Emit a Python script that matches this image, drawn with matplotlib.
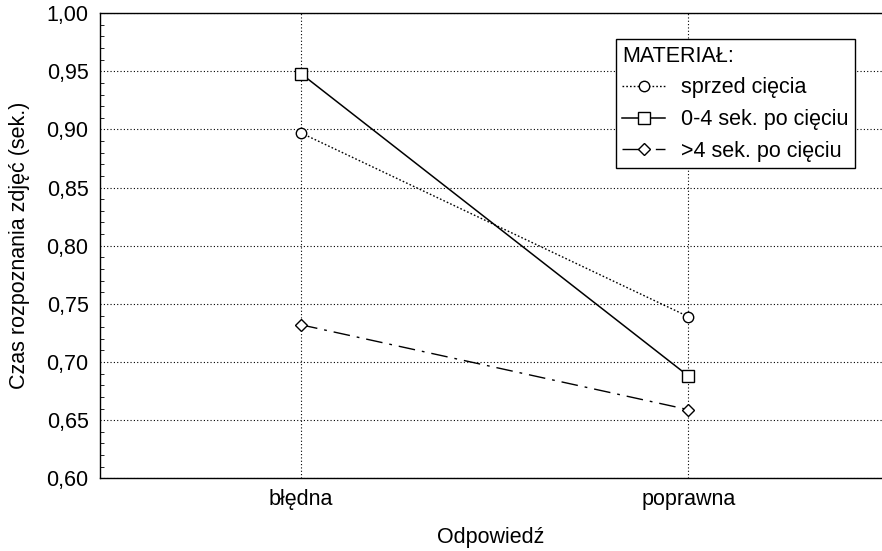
import matplotlib
matplotlib.use("Agg")
import matplotlib.pyplot as plt
from matplotlib.ticker import FuncFormatter, MultipleLocator

plt.rcParams['font.family'] = ['Liberation Sans', 'DejaVu Sans']

# --- dane
odpowiedzi = ['błędna', 'poprawna']
sprzed = [0.897, 0.739]
po_0_4 = [0.948, 0.688]
po_4 = [0.732, 0.659]

FS = 15.5

fig = plt.figure(figsize=(8.82, 5.51), dpi=100)
ax = fig.add_axes([0.113, 0.132, 0.887, 0.844])

x = range(len(odpowiedzi))
ax.plot(x, sprzed, color='black', linestyle=(0, (1.2, 1.5)), linewidth=1,
        marker='o', markersize=7.5, markerfacecolor='white', label='sprzed cięcia')
ax.plot(x, po_0_4, color='black', linestyle='-', linewidth=1.1,
        marker='s', markersize=8.5, markerfacecolor='white', label='0-4 sek. po cięciu')
ax.plot(x, po_4, color='black', linestyle=(0, (12, 5, 2, 5)), linewidth=1,
        marker='D', markersize=6.5, markerfacecolor='white', label='>4 sek. po cięciu')

ax.set_xlim(-0.52, 1.5)
ax.set_ylim(0.60, 1.00)
ax.set_xticks(list(x))
ax.set_xticklabels(odpowiedzi)
ax.yaxis.set_major_locator(MultipleLocator(0.05))
ax.yaxis.set_minor_locator(MultipleLocator(0.01))
ax.yaxis.set_major_formatter(FuncFormatter(lambda v, p: f'{v:.2f}'.replace('.', ',')))

ax.grid(True, color='black', linestyle=(0, (1, 2)), linewidth=0.8)
ax.tick_params(axis='both', labelsize=FS, length=0, pad=8)
ax.tick_params(axis='y', which='minor', direction='in', length=3)
ax.spines['right'].set_visible(False)
for s in ['left', 'bottom', 'top']:
    ax.spines[s].set_linewidth(1)

ax.set_xlabel('Odpowiedź', fontsize=FS, labelpad=12)
ax.set_ylabel('Czas rozpoznania zdjęć (sek.)', fontsize=FS, labelpad=12)

leg = ax.legend(title='MATERIAŁ:', loc='upper right', bbox_to_anchor=(0.966, 0.944),
                fontsize=FS, title_fontsize=FS, frameon=True, fancybox=False,
                edgecolor='black', handlelength=2.0, borderpad=0.3, labelspacing=0.5,
                handletextpad=0.75, borderaxespad=0)
leg._legend_box.align = 'left'
leg.get_frame().set_linewidth(1)
leg.get_frame().set_alpha(1)

fig.savefig('out.png', dpi=100)
